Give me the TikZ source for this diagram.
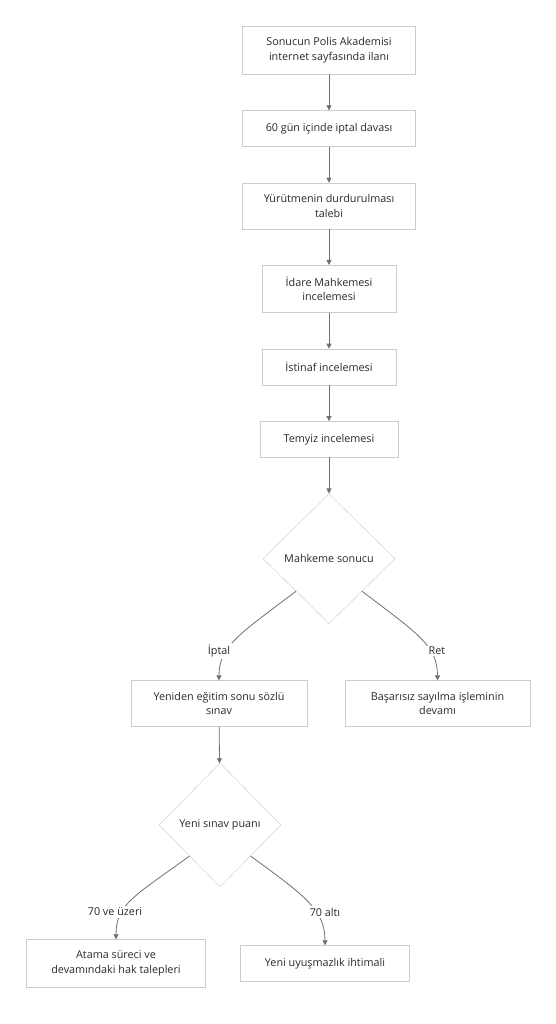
\documentclass[tikz,border=0pt]{standalone}
\usepackage{fontspec}
\setmainfont{Open Sans}
\usetikzlibrary{positioning,shapes.geometric,arrows.meta}
\definecolor{boxline}{HTML}{CCCCCC}
\definecolor{edgeline}{HTML}{707070}
\definecolor{txt}{HTML}{2A2A2A}

\begin{document}
\begin{tikzpicture}[
  x=1pt, y=-1pt,
  node distance=36pt,
  every node/.style={font=\fontsize{10.8}{14.5}\selectfont, text=txt},
  stepbox/.style={rectangle, draw=boxline, fill=white, minimum height=36pt,
    inner ysep=11.5pt, inner xsep=8pt, align=center},
  choice/.style={diamond, draw=boxline, fill=white, inner sep=0pt, align=center},
  flow/.style={draw=edgeline, line width=0.8pt, -{Triangle[length=5pt,width=5pt]}},
  lbl/.style={fill=white, inner sep=1.5pt}
]
  \useasboundingbox[fill=white] (0,0) rectangle (555,1024);

  % main column
  \node[stepbox, minimum width=173pt] (ilan) at (329,50)
        {Sonucun Polis Akademisi\\internet sayfasında ilanı};
  \node[stepbox, minimum width=173pt, below=of ilan] (dava) {60 gün içinde iptal davası};
  \node[stepbox, minimum width=173pt, below=of dava] (yd)
        {Yürütmenin durdurulması\\talebi};
  \node[stepbox, minimum width=134pt, below=of yd] (idare)
        {İdare Mahkemesi\\incelemesi};
  \node[stepbox, minimum width=134pt, below=of idare] (istinaf) {İstinaf incelemesi};
  \node[stepbox, minimum width=138pt, below=of istinaf] (temyiz) {Temyiz incelemesi};
  \node[choice, minimum width=132pt, minimum height=130pt, below=of temyiz] (sonuc)
        {Mahkeme sonucu};

  % branches
  \node[stepbox, minimum width=176pt] (sozlu) at (219,703.5)
        {Yeniden eğitim sonu sözlü\\sınav};
  \node[stepbox, minimum width=185pt] (basarisiz) at (437.5,703.5)
        {Başarısız sayılma işleminin\\devamı};
  \node[choice, minimum width=122pt, minimum height=124pt] (puan) at (220,825)
        {Yeni sınav puanı};
  \node[stepbox, minimum width=179pt] (atama) at (116,963.5)
        {Atama süreci ve\\devamındaki hak talepleri};
  \node[stepbox, minimum width=169pt] (uyusmazlik) at (325,963.5)
        {Yeni uyuşmazlık ihtimali};

  \draw[flow] (ilan) -- (dava);
  \draw[flow] (dava) -- (yd);
  \draw[flow] (yd) -- (idare);
  \draw[flow] (idare) -- (istinaf);
  \draw[flow] (istinaf) -- (temyiz);
  \draw[flow] (temyiz) -- (sonuc);
  \draw[flow] (sozlu) -- (puan);

  \draw[flow] (sonuc.south west) .. controls +(-55,42) and +(0,-35) .. (sozlu.north);
  \draw[flow] (sonuc.south east) .. controls +(55,42) and +(0,-35) .. (basarisiz.north);
  \draw[flow] (puan.south west) .. controls +(-55,40) and +(0,-35) .. (atama.north);
  \draw[flow] (puan.south east) .. controls +(55,40) and +(0,-35) .. (uyusmazlik.north);

  \node[lbl] (lIptal) at (219,651) {İptal};
  \node[lbl] (lRet) at (437,651) {Ret};
  \node[lbl] (lUst) at (115,912) {70 ve üzeri};
  \node[lbl] (lAlt) at (325,912) {70 altı};
\end{tikzpicture}
\end{document}
